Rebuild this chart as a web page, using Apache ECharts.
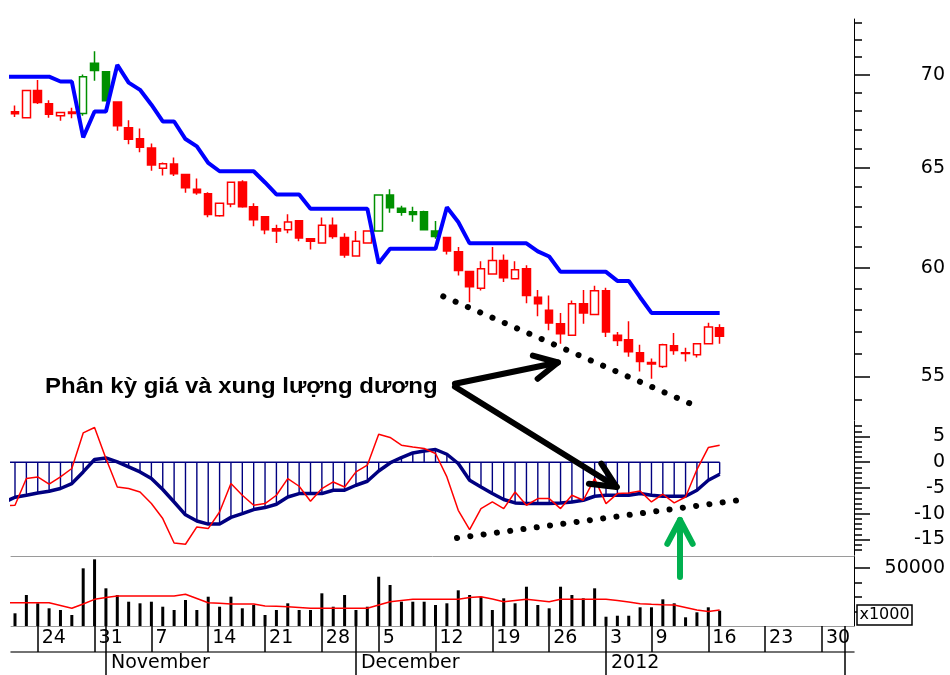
<!DOCTYPE html>
<html><head><meta charset="utf-8">
<script src="https://cdn.jsdelivr.net/npm/echarts@6.0.0/dist/echarts.min.js"></script>
<style>html,body{margin:0;padding:0;background:#fff}#c{width:950px;height:675px}</style>
</head><body><div id="c"></div>
<script>
// ---------------- DATA ----------------
const dates = [
'2011-10-19','2011-10-20','2011-10-21','2011-10-24','2011-10-25','2011-10-26','2011-10-27','2011-10-28','2011-10-31',
'2011-11-01','2011-11-02','2011-11-03','2011-11-04','2011-11-07','2011-11-08','2011-11-09','2011-11-10','2011-11-11',
'2011-11-14','2011-11-15','2011-11-16','2011-11-17','2011-11-18','2011-11-21','2011-11-22','2011-11-23','2011-11-24','2011-11-25',
'2011-11-28','2011-11-29','2011-11-30','2011-12-01','2011-12-02','2011-12-05','2011-12-06','2011-12-07','2011-12-08','2011-12-09',
'2011-12-12','2011-12-13','2011-12-14','2011-12-15','2011-12-16','2011-12-19','2011-12-20','2011-12-21','2011-12-22','2011-12-23',
'2011-12-26','2011-12-27','2011-12-28','2011-12-29','2011-12-30','2012-01-03','2012-01-04','2012-01-05','2012-01-06',
'2012-01-09','2012-01-10','2012-01-11','2012-01-12','2012-01-13','2012-01-16','2012-01-17','2012-01-18','2012-01-19','2012-01-20',
'2012-01-23','2012-01-24','2012-01-25','2012-01-26','2012-01-27','2012-01-30','2012-01-31','2012-02-01'];

const open = [null,67.97,67.64,69.13,68.41,67.75,67.95,67.87,70.66,70.18,68.5,67.1,66.52,66.02,64.96,65.18,64.64,63.88,63.65,62.55,63.13,64.26,63.0,62.5,61.9,61.85,62.3,61.41,61.2,62.07,61.47,60.56,61.2,61.78,63.59,62.92,62.75,62.75,61.78,61.47,60.77,59.82,59.02,59.7,60.35,59.47,59.95,58.6,57.99,57.37,56.84,58.29,57.8,58.9,56.84,56.64,56.06,55.62,55.44,56.37,56.06,55.96,56.46,57.19];
const high = [null,68.31,69.13,69.72,68.59,67.93,68.19,70.02,71.34,70.18,68.5,67.51,67.06,66.26,65.27,65.53,64.64,64.43,63.73,63.17,64.24,64.34,63.17,62.5,62.1,62.62,62.3,61.41,62.46,62.46,61.67,61.78,61.78,63.62,63.88,63.04,62.99,62.8,62.28,61.47,61.0,59.82,60.31,61.0,60.64,60.31,60.12,58.94,58.68,57.86,58.45,58.94,59.14,59.05,56.99,57.48,56.41,55.8,56.46,56.95,56.28,56.46,57.41,57.35];
const low = [null,67.68,67.64,68.39,67.64,67.48,67.62,67.75,69.68,68.57,66.94,66.23,65.8,64.84,64.59,64.56,63.7,63.6,62.47,62.5,62.97,62.95,62.02,61.63,61.2,61.67,61.28,60.88,61.2,61.41,60.48,60.56,61.2,61.78,62.7,62.54,62.25,61.85,61.41,60.64,59.63,58.37,58.91,59.7,59.32,59.47,58.32,57.71,57.07,56.46,56.84,57.37,57.8,56.77,56.36,55.88,55.22,54.9,55.37,55.96,55.66,55.84,56.46,56.46];
const close = [null,67.86,69.13,68.47,67.83,67.93,67.87,69.9,70.24,68.57,67.21,66.49,66.06,65.14,65.2,64.68,63.96,63.7,62.61,63.17,64.24,63.0,62.34,61.85,61.78,62.23,61.44,61.28,62.07,61.52,60.61,61.28,61.78,63.59,62.95,62.72,62.61,61.85,61.52,60.8,59.87,59.09,59.95,60.35,59.52,59.9,58.68,58.29,57.4,56.91,58.29,57.86,58.9,56.99,56.61,56.1,55.66,55.55,56.41,56.15,56.02,56.46,57.22,56.8];
const stopLine = [69.9,69.9,69.9,69.9,69.9,69.63,69.63,66.59,67.98,67.98,70.56,69.57,69.17,68.35,67.44,67.44,66.5,66.11,65.24,64.81,64.81,64.81,64.81,64.23,63.62,63.62,63.62,62.9,62.9,62.9,62.9,62.9,62.9,60.21,60.92,60.92,60.92,60.92,60.92,62.97,62.23,61.18,61.18,61.18,61.18,61.18,61.18,60.79,60.54,59.8,59.8,59.8,59.8,59.8,59.37,59.37,58.6,57.87,57.87,57.87,57.87,57.87,57.87,57.87];

const macd = [-7.8,-6.8,-6.4,-5.96,-5.63,-5.1,-4.14,-1.88,0.52,0.83,0.06,-0.91,-1.88,-3.17,-5.3,-7.71,-10.2,-11.4,-12.0,-12.0,-10.7,-9.96,-9.18,-8.8,-8.16,-6.74,-6.08,-6.08,-6.08,-5.44,-5.44,-4.47,-3.69,-1.7,-0.14,0.91,1.8,2.19,2.47,1.55,-0.25,-3.5,-4.8,-6.08,-7.24,-7.9,-8.0,-8.0,-8.0,-7.9,-7.7,-7.38,-6.6,-6.4,-6.4,-6.4,-6.08,-6.4,-6.6,-6.6,-6.6,-5.44,-3.5,-2.33];
const momentum = [-8.4,-8.35,-3.17,-2.85,-4.27,-2.85,-1.22,5.69,6.74,0.72,-4.8,-5.11,-5.77,-8.02,-10.93,-15.67,-15.92,-12.56,-12.87,-9.65,-4.14,-6.41,-8.35,-8.02,-6.41,-3.17,-4.66,-7.57,-5.11,-3.83,-4.8,-1.88,-0.58,5.44,4.8,3.3,2.97,2.66,1.69,-2.85,-9.32,-13.07,-8.99,-7.71,-8.99,-5.77,-8.35,-7.05,-7.05,-8.99,-6.41,-7.38,-3.17,-8.02,-6.08,-5.96,-5.57,-7.71,-6.21,-7.9,-6.74,-1.42,2.85,3.3];
const zeroLine = [[0,0],[63,0]];

const volume = [null,18760,31380,25660,22210,21030,17590,49790,56000,36000,31380,26760,25660,26760,23310,21030,27930,21030,30210,23310,30210,22210,24480,17590,21030,25660,21030,21030,32550,23310,31380,21030,23310,44000,38280,26760,26760,26760,24480,25660,34620,31380,30210,21030,29100,25660,37100,24480,22210,37100,31380,29100,36000,16410,17100,17100,22900,22900,28410,25660,16000,19450,22900,20550];
const volumeMA = [26070,26070,26070,26070,26070,24140,22210,25170,28410,29660,30690,30690,30690,30690,30690,30690,31860,28970,26070,25660,25170,25170,25170,23790,23590,23310,22760,22210,22210,22210,22210,22210,22210,24480,26760,27590,28410,28410,28410,28410,28410,29660,30210,28620,26760,27590,28410,27590,26760,28410,28410,28410,28410,28410,27590,26550,25380,24970,24690,24480,22760,21030,20000,21030];

const priceTicks = [55,60,65,70];
const priceMinorTicks = [54,56,57,58,59,61,62,63,64,66,67,68,69,71,72,73];
const macdTicks = [-15,-10,-5,0,5];
const macdMinorTicks = [-17,-16,-14,-13,-12,-11,-9,-8,-7,-6,-4,-3,-2,-1,1,2,3,4,6,7];
const volTicks = [50000];
const volMinorTicks = [20000,30000,40000];
const monthNames = ['January','February','March','April','May','June','July','August','September','October','November','December'];

// annotations (data space)
const noteText = 'Phân kỳ giá và xung lượng dương';
const noteAt = [3.64, 54.55];
const priceTrend = [[38.68, 58.64],[61.27, 53.64]];
const macdTrend = [[39.89, -14.7],[65.46, -7.14]];
const arrowUp = {tail:[39.71, 54.68], tip:[48.77, 55.62]};
const arrowDown = {tail:[39.71, 54.55], tip:[53.94, -4.81]};
const greenArrow = {tip:[59.51, -11.21], tail:[59.51, 43810]};

// ---------------- BUILD ----------------
const LN = Math.log;
const FONT = 'DejaVu Sans';
const X0 = 0.648, X1 = 74.82;
const priceMin = 53.12, priceMax = 73.2;

const weekStarts = [], monthStarts = [];
for (let i = 1; i < dates.length; i++) {
  const a = new Date(dates[i-1] + 'T00:00:00Z'), b = new Date(dates[i] + 'T00:00:00Z');
  if (b.getUTCDay() < a.getUTCDay()) weekStarts.push(i);
  if (b.getUTCMonth() !== a.getUTCMonth()) monthStarts.push(i);
}
const monthLabelIdx = monthStarts.filter(i => i < X1 - 6);

const RED = '#FF0000', GREEN = '#009000';
const candleData = [];
for (let i = 0; i < open.length; i++) {
  if (open[i] == null) continue;
  const col = close[i] > stopLine[i] ? GREEN : RED;        // colour: above / below the stop line
  const fill = close[i] > open[i] ? '#fff' : col;          // hollow when close > open
  candleData.push({
    value: [i, LN(open[i]), LN(close[i]), LN(low[i]), LN(high[i])],
    itemStyle: {color: fill, color0: fill, borderColor: col, borderColor0: col, borderColorDoji: col}
  });
}

const axLabel = {color: '#000', fontSize: 19, fontFamily: FONT};
const xBase = {type: 'value', min: X0, max: X1, splitLine: {show: false}};
const yBase = {type: 'value', position: 'right', splitLine: {show: false}};
const majorTick = {show: true, length: 16, lineStyle: {color: '#000', width: 1.5}};
const minorTick = {show: true, length: 8, lineStyle: {color: '#000', width: 1.5}};
const yLine = {show: true, onZero: false, lineStyle: {color: '#000', width: 1}};
const noLine = {show: false, onZero: false};
const gridBase = {left: 11, right: 96, containLabel: false, outerBoundsMode: 'none', show: false};

const option = {
  animation: false,
  backgroundColor: '#fff',
  textStyle: {fontFamily: FONT},
  grid: [
    Object.assign({top: 19, height: 401}, gridBase),
    Object.assign({top: 421, height: 134}, gridBase),
    Object.assign({top: 556, height: 70}, gridBase)
  ],
  xAxis: [
    Object.assign({gridIndex: 0, show: false}, xBase),
    Object.assign({gridIndex: 1, show: false}, xBase),
    Object.assign({gridIndex: 2, position: 'bottom',
      axisLine: {show: true, onZero: false, lineStyle: {color: '#9a9a9a', width: 1}},
      axisTick: {show: true, customValues: weekStarts, length: 26, lineStyle: {color: '#000', width: 1.5}},
      axisLabel: Object.assign({show: true, customValues: weekStarts, formatter: v => String(+dates[v].slice(8, 10)),
        align: 'left', padding: [0, 0, 0, 4], margin: 3}, axLabel)}, xBase),
    Object.assign({gridIndex: 2, position: 'bottom', axisLine: noLine,
      axisTick: {show: true, customValues: monthStarts, length: 50, lineStyle: {color: '#000', width: 1.5}},
      axisLabel: {show: false}}, xBase),
    Object.assign({gridIndex: 2, position: 'bottom', offset: 26,
      axisLine: {show: true, onZero: false, lineStyle: {color: '#444', width: 1.5}},
      axisTick: {show: false},
      axisLabel: Object.assign({show: true, customValues: monthLabelIdx,
        formatter: v => { const d = dates[v]; const m = +d.slice(5, 7); return m === 1 ? d.slice(0, 4) : monthNames[m - 1]; },
        align: 'left', padding: [0, 0, 0, 5], margin: 2}, axLabel)}, xBase),
    Object.assign({gridIndex: 2, position: 'top',
      axisLine: {show: true, onZero: false, lineStyle: {color: '#9a9a9a', width: 1}},
      axisTick: {show: false}, axisLabel: {show: false}}, xBase)
  ],
  yAxis: [
    Object.assign({gridIndex: 0, min: LN(priceMin), max: LN(priceMax), axisLine: yLine,
      axisTick: Object.assign({customValues: priceTicks.map(LN)}, majorTick),
      axisLabel: Object.assign({customValues: priceTicks.map(LN), formatter: v => String(Math.round(Math.exp(v))),
        align: 'right', margin: 91}, axLabel)}, yBase),
    Object.assign({gridIndex: 0, min: LN(priceMin), max: LN(priceMax), axisLine: noLine,
      axisTick: Object.assign({customValues: priceMinorTicks.map(LN)}, minorTick), axisLabel: {show: false}}, yBase),
    Object.assign({gridIndex: 1, min: -18, max: 8, axisLine: yLine,
      axisTick: Object.assign({customValues: macdTicks}, majorTick),
      axisLabel: Object.assign({customValues: macdTicks, formatter: v => String(v), align: 'right', margin: 91}, axLabel)}, yBase),
    Object.assign({gridIndex: 1, min: -18, max: 8, axisLine: noLine,
      axisTick: Object.assign({customValues: macdMinorTicks}, minorTick), axisLabel: {show: false}}, yBase),
    Object.assign({gridIndex: 2, min: 10000, max: 58300, startValue: 10000, axisLine: yLine,
      axisTick: Object.assign({customValues: volTicks}, majorTick),
      axisLabel: Object.assign({customValues: volTicks, formatter: v => String(v), align: 'right', margin: 91}, axLabel)}, yBase),
    Object.assign({gridIndex: 2, min: 10000, max: 58300, axisLine: noLine,
      axisTick: Object.assign({customValues: volMinorTicks}, minorTick), axisLabel: {show: false}}, yBase)
  ],
  series: [
    {type: 'candlestick', xAxisIndex: 0, yAxisIndex: 0, data: candleData, barWidth: 8,
      encode: {x: 0, y: [1, 2, 3, 4]}, itemStyle: {borderWidth: 1.5}, silent: true, emphasis: {disabled: true}},
    {type: 'line', xAxisIndex: 0, yAxisIndex: 0, data: stopLine.map((v, i) => [i, LN(v)]), symbol: 'none',
      lineStyle: {color: '#0000FF', width: 4}, silent: true, emphasis: {disabled: true},
      markLine: {silent: true, symbol: ['none', 'none'], label: {show: false}, emphasis: {disabled: true},
        lineStyle: {color: '#000', width: 6, type: [0.1, 13.3], cap: 'round'},
        data: [[{coord: [priceTrend[0][0], LN(priceTrend[0][1])]}, {coord: [priceTrend[1][0], LN(priceTrend[1][1])]}]]}},
    {type: 'bar', xAxisIndex: 1, yAxisIndex: 2, data: macd.map((v, i) => [i, v]).slice(1), barWidth: 1.4,
      itemStyle: {color: '#000080'}, silent: true, emphasis: {disabled: true}},
    {type: 'line', xAxisIndex: 1, yAxisIndex: 2, data: zeroLine, symbol: 'none',
      lineStyle: {color: '#000080', width: 1.5}, silent: true, emphasis: {disabled: true}},
    {type: 'line', xAxisIndex: 1, yAxisIndex: 2, data: macd.map((v, i) => [i, v]), symbol: 'none',
      lineStyle: {color: '#000080', width: 3.5}, silent: true, emphasis: {disabled: true}},
    {type: 'line', xAxisIndex: 1, yAxisIndex: 2, data: momentum.map((v, i) => [i, v]), symbol: 'none',
      lineStyle: {color: RED, width: 1.5}, silent: true, emphasis: {disabled: true},
      markLine: {silent: true, symbol: ['none', 'none'], label: {show: false}, emphasis: {disabled: true},
        lineStyle: {color: '#000', width: 6, type: [0.1, 13.3], cap: 'round'},
        data: [[{coord: macdTrend[0]}, {coord: macdTrend[1]}]]}},
    {type: 'bar', xAxisIndex: 2, yAxisIndex: 4, data: volume.map((v, i) => [i, v]).filter(d => d[1] != null),
      barWidth: 3, clip: true, itemStyle: {color: '#000'}, silent: true, emphasis: {disabled: true}},
    {type: 'line', xAxisIndex: 2, yAxisIndex: 4, data: volumeMA.map((v, i) => [i, v]), symbol: 'none',
      lineStyle: {color: RED, width: 1.5}, silent: true, emphasis: {disabled: true}}
  ]
};

const chart = echarts.init(document.getElementById('c'));
chart.setOption(option);

// ---------------- ANNOTATIONS ----------------
const px = (xi, yi, x, y) => chart.convertToPixel({xAxisIndex: xi, yAxisIndex: yi}, [x, y]);
function head(tip, tail, len, ang) {
  const dx = tail[0] - tip[0], dy = tail[1] - tip[1], L = Math.hypot(dx, dy);
  const ux = dx / L, uy = dy / L;
  const r = a => [tip[0] + len * (ux * Math.cos(a) - uy * Math.sin(a)), tip[1] + len * (ux * Math.sin(a) + uy * Math.cos(a))];
  return [r(ang), tip, r(-ang)];
}
function arrow(tail, tip, color, w, len, ang) {
  const st = {stroke: color, lineWidth: w, fill: null, lineCap: 'round', lineJoin: 'round'};
  return [
    {type: 'polyline', z: 100, silent: true, shape: {points: [tail, tip]}, style: st},
    {type: 'polyline', z: 100, silent: true, shape: {points: head(tip, tail, len, ang)}, style: st}
  ];
}
const noteP = px(0, 0, noteAt[0], LN(noteAt[1]));
const a1t = px(0, 0, arrowUp.tail[0], LN(arrowUp.tail[1])), a1h = px(0, 0, arrowUp.tip[0], LN(arrowUp.tip[1]));
const a2t = px(0, 0, arrowDown.tail[0], LN(arrowDown.tail[1])), a2h = px(1, 2, arrowDown.tip[0], arrowDown.tip[1]);
const g3h = px(1, 2, greenArrow.tip[0], greenArrow.tip[1]), g3t = px(2, 4, greenArrow.tail[0], greenArrow.tail[1]);
const boxA = px(2, 4, X1, 10000);

const graphics = [
  {type: 'text', x: noteP[0], y: noteP[1], scaleX: 1.09, z: 100, silent: true,
    style: {text: noteText, font: 'bold 22px "Liberation Sans"', fill: '#000', align: 'left', verticalAlign: 'middle'}},
  ...arrow(a1t, a1h, '#000', 6, 26, 27 * Math.PI / 180),
  ...arrow(a2t, a2h, '#000', 6, 28, 25 * Math.PI / 180),
  ...arrow(g3t, g3h, '#00B04F', 6, 27, 28 * Math.PI / 180),
  {type: 'rect', z: 100, silent: true, shape: {x: boxA[0] + 3, y: boxA[1] - 21, width: 55, height: 20},
    style: {fill: '#fff', stroke: '#000', lineWidth: 1.5}},
  {type: 'text', z: 101, silent: true, x: boxA[0] + 30.5, y: boxA[1] - 11,
    style: {text: 'x1000', font: '16px "DejaVu Sans"', fill: '#000', align: 'center', verticalAlign: 'middle'}}
];
chart.setOption({graphic: graphics});
</script>
</body></html>
